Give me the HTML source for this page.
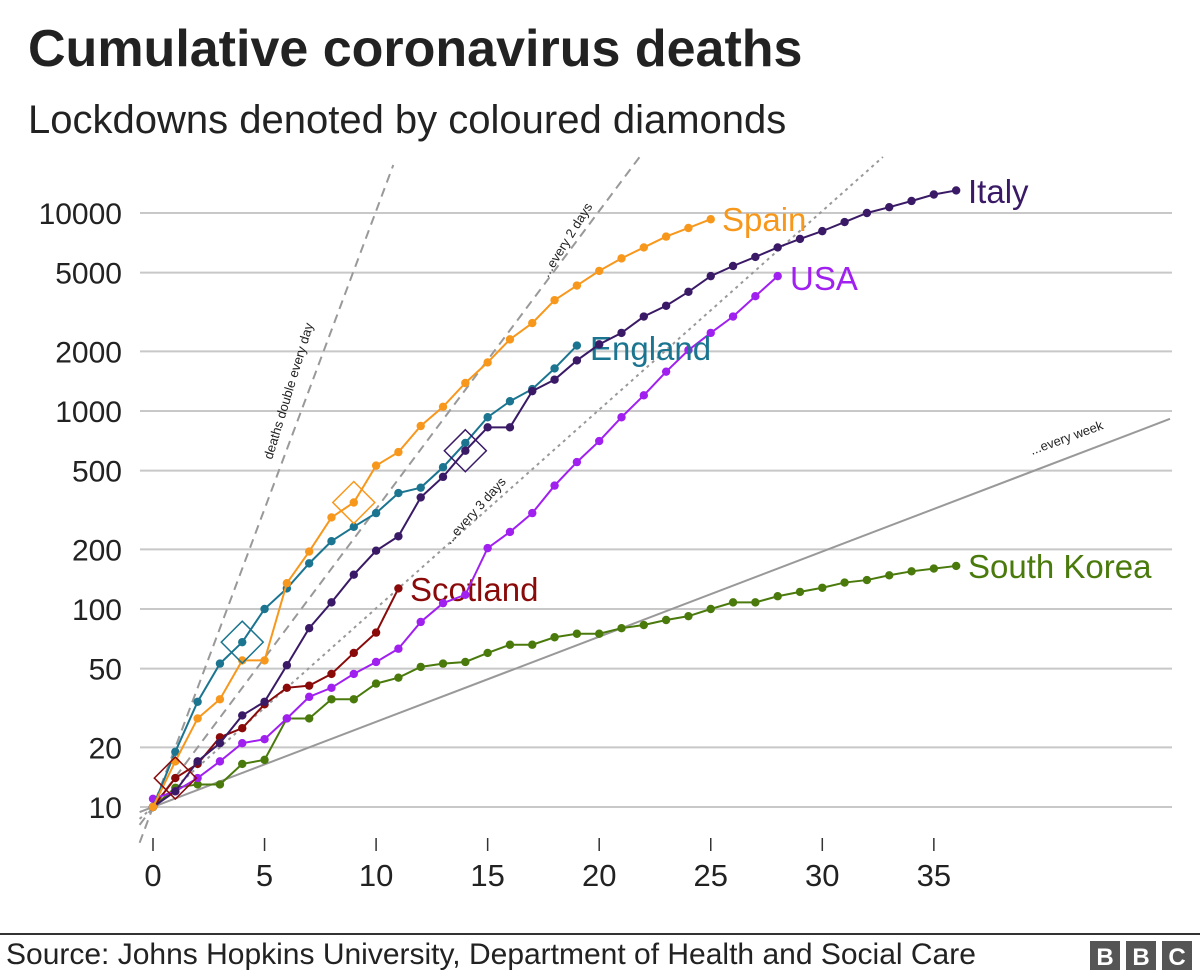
<!DOCTYPE html>
<html><head><meta charset="utf-8"><style>
body{margin:0;background:#fff;width:1200px;height:975px;overflow:hidden;font-family:"Liberation Sans",Arial,sans-serif}
svg{display:block}
</style></head><body>
<svg id="chart" width="1200" height="975">
<text x="28" y="66" font-size="52" font-weight="bold" fill="#222">Cumulative coronavirus deaths</text>
<text x="28" y="133" font-size="40" fill="#222">Lockdowns denoted by coloured diamonds</text>
<g id="grid"></g><g id="ref"></g><g id="series"></g><g id="axes"></g>
<line x1="0" y1="934" x2="1200" y2="934" stroke="#333" stroke-width="2"/>
<text x="6" y="964" font-size="30" fill="#222">Source: Johns Hopkins University, Department of Health and Social Care</text>
<g>
<rect x="1090" y="941" width="30" height="29" fill="#555"/><text x="1105" y="965" font-size="24" font-weight="bold" fill="#fff" text-anchor="middle">B</text>
<rect x="1126" y="941" width="30" height="29" fill="#555"/><text x="1141" y="965" font-size="24" font-weight="bold" fill="#fff" text-anchor="middle">B</text>
<rect x="1162" y="941" width="30" height="29" fill="#555"/><text x="1177" y="965" font-size="24" font-weight="bold" fill="#fff" text-anchor="middle">C</text>
</g>
</svg>
<script>
const yTicks=[10,20,50,100,200,500,1000,2000,5000,10000];
const xTicks=[0,5,10,15,20,25,30,35];
const italy=[10,12,17,21,29,34,52,80,108,149,197,233,366,465,630,827,827,1260,1440,1800,2170,2480,3000,3400,4000,4800,5400,6000,6700,7400,8100,9000,10000,10700,11500,12400,13000];
const spain=[10,17,28,35,55,55,135,195,290,345,530,620,840,1050,1385,1760,2300,2780,3630,4300,5100,5900,6700,7600,8400,9300];
const usa=[11,12,14,17,21,22,28,36,40,47,54,63,86,107,118,203,245,305,420,552,705,930,1200,1580,2030,2480,3000,3800,4800];
const england=[10,19,34,53,68,100,127,170,220,260,305,385,410,520,690,930,1120,1290,1640,2140];
const scotland=[10,14,16.5,22.5,25,33,40,41,47,60,76,127];
const korea=[10,12.5,13,13,16.5,17.3,28,28,35,35,42,45,51,53,54,60,66,66,72,75,75,80,83,88,92,100,108,108,116,122,128,136,140,148,155,160,165];
const lockdownDays=[1,4,9,14];
const lockdownSeries=["scotland","england","spain","italy"];
const doublingDays=[1,2,3,7];

const NS="http://www.w3.org/2000/svg";
const X=d=>153+22.31*d;
const Y=v=>807-198*(Math.log10(v)-1);
function mk(tag,attrs,parent){const e=document.createElementNS(NS,tag);for(const k in attrs)e.setAttribute(k,attrs[k]);parent.appendChild(e);return e;}
const grid=document.getElementById('grid'),axes=document.getElementById('axes'),ref=document.getElementById('ref'),ser=document.getElementById('series');
yTicks.forEach(v=>{
 const l=mk('line',{x1:140,x2:1172,y1:Y(v),y2:Y(v),stroke:'#c8c8c8','stroke-width':2},grid);
 
 
 const t=mk('text',{x:122,y:Y(v)+11,'font-size':30,'text-anchor':'end',fill:'#222'},axes);
 t.textContent=v;
 
 
});
xTicks.forEach(d=>{
 const l=mk('line',{x1:X(d),x2:X(d),y1:838,y2:851,stroke:'#333','stroke-width':1.5},axes);
 
 
 const t=mk('text',{x:X(d),y:886,'font-size':31,'text-anchor':'middle',fill:'#222'},axes);
 t.textContent=d;
 
 
});
const refStyles={1:{dash:'9,6',end:165},2:{dash:'9,6',end:157},3:{dash:'3,4',end:157},7:{dash:'',end:null}};
doublingDays.forEach(p=>{
 const v=d=>10*Math.pow(2,d/p);
 let dEnd;
 if(p===7) dEnd=(1170-153)/22.31; else { const lg=(807-refStyles[p].end)/198+1; dEnd=p*Math.log2(Math.pow(10,lg)/10);}
 const d0=-0.6;
 const l=mk('line',{x1:X(d0),y1:Y(v(d0)),x2:X(dEnd),y2:Y(v(dEnd)),stroke:'#999','stroke-width':2},ref);
 if(refStyles[p].dash) l.setAttribute('stroke-dasharray',refStyles[p].dash);
 
 
});
const refLabels=[[272,460,-73,'deaths double every day'],[548,278,-58,'...every 2 days'],[450,545,-48,'...every 3 days'],[1032,455,-20,'...every week']];
refLabels.forEach(r=>{
 const t=mk('text',{x:r[0],y:r[1],'font-size':13,fill:'#222',transform:`rotate(${r[2]} ${r[0]} ${r[1]})`},ref);
 t.textContent=r[3];
 
 
});
const S={
 korea:{data:korea,c:'#4a7a0c',label:'South Korea',lx:968,ly:578},
 scotland:{data:scotland,c:'#8a0a0a',label:'Scotland',lx:410,ly:601},
 usa:{data:usa,c:'#a020f0',label:'USA',lx:790,ly:290},
 england:{data:england,c:'#1b7590',label:'England',lx:590,ly:360},
 italy:{data:italy,c:'#3a1a66',label:'Italy',lx:968,ly:203},
 spain:{data:spain,c:'#f7981d',label:'Spain',lx:722,ly:231}
};
Object.keys(S).forEach(k=>{
 const s=S[k];
 const g=mk('g',{},ser);
 
 
 const pts=s.data.map((v,i)=>X(i)+','+Y(v)).join(' ');
 const pl=mk('polyline',{points:pts,fill:'none',stroke:s.c,'stroke-width':2},g);
 
 
 s.data.forEach((v,i)=>{
  const c=mk('circle',{cx:X(i),cy:Y(v),r:4.2,fill:s.c},g);
  
  
 });
 const t=mk('text',{x:s.lx,y:s.ly,'font-size':33,fill:s.c},g);
 t.textContent=s.label;
 
 
});
lockdownDays.forEach((d,i)=>{
 const s=S[lockdownSeries[i]];const cx=X(d),cy=Y(s.data[d]);const r=21;
 const p=mk('polygon',{points:`${cx},${cy-r} ${cx+r},${cy} ${cx},${cy+r} ${cx-r},${cy}`,fill:'none',stroke:s.c,'stroke-width':1.5},ser);
 
 
});
</script>
</body></html>
